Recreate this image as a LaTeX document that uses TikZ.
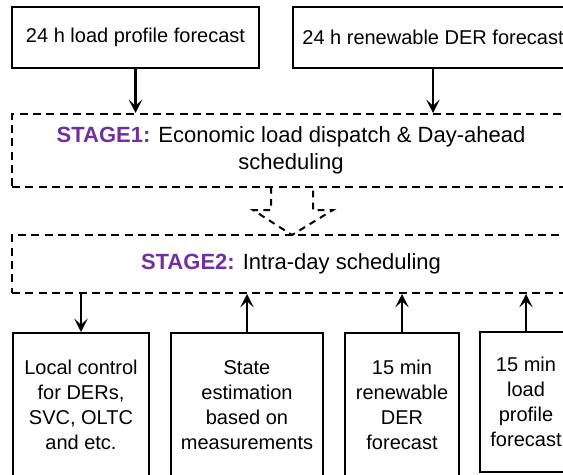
\documentclass[tikz,border=0pt]{standalone}
\usepackage{fontspec}
\setmainfont{Liberation Sans}
\usetikzlibrary{arrows.meta}
\definecolor{stagepurple}{HTML}{7030A0}
\newcommand\stagetag[1]{{\bfseries\color{stagepurple}#1}}
\begin{document}
\begin{tikzpicture}[x=0.75pt,y=-0.75pt,
  every node/.style={font=\fontsize{15}{18.75}\selectfont, align=center, inner sep=0pt},
  solidbox/.style={draw, line width=1.5pt},
  stagebox/.style={draw, line width=1.5pt, dash pattern=on 6pt off 4pt,
    font=\fontsize{16.5}{20.5}\selectfont},
  flow/.style={line width=1.8pt, -{Stealth[length=10pt,width=10pt,inset=4.5pt]}}
]
\clip (0,0) rectangle (563,474);

% day-ahead inputs
\node[solidbox, minimum width=185.25pt, minimum height=45.75pt] (t1) at (135.5,37.5) {24 h load profile forecast};
\node[solidbox, minimum width=210pt, minimum height=45.75pt] (t2) at (433,37.5) {24 h renewable DER forecast};

% the two scheduling stages
\node[stagebox, minimum width=418.5pt, minimum height=54.75pt] (s1) at (291,150.5)
  {\stagetag{STAGE1:} Economic load dispatch \& Day-ahead\\scheduling};
\node[stagebox, minimum width=418.5pt, minimum height=43.5pt] (s2) at (291,264)
  {\stagetag{STAGE2:} Intra-day scheduling};

% intra-day blocks
\node[solidbox, minimum width=102pt, minimum height=108pt] (bA) at (81,405)
  {Local control\\for DERs,\\SVC, OLTC\\and etc.};
\node[solidbox, minimum width=114pt, minimum height=108pt] (bB) at (247,405)
  {State\\estimation\\based on\\measurements};
\node[solidbox, minimum width=85.5pt, minimum height=108pt] (bC) at (402,405)
  {15 min\\renewable\\DER\\forecast};
\node[solidbox, minimum width=69pt, minimum height=105pt] (bD) at (526,402)
  {15 min\\load\\profile\\forecast};

% connectors
\draw[flow] (t1.south) -- (t1.south |- s1.north);
\draw[flow] (t2.south) -- (t2.south |- s1.north);
\draw[flow] (s2.south -| bA.north) -- (bA.north);
\draw[flow] (bB.north) -- (bB.north |- s2.south);
\draw[flow] (bC.north) -- (bC.north |- s2.south);
\draw[flow] (bD.north) -- (bD.north |- s2.south);

% hollow block arrow from stage 1 to stage 2
\draw[line width=1.5pt, dash pattern=on 5pt off 4pt, line join=miter]
  (271,187) -- (271,210) -- (253,210) -- (292,235) -- (333,210) -- (313,210) -- (313,187);
\end{tikzpicture}
\end{document}
